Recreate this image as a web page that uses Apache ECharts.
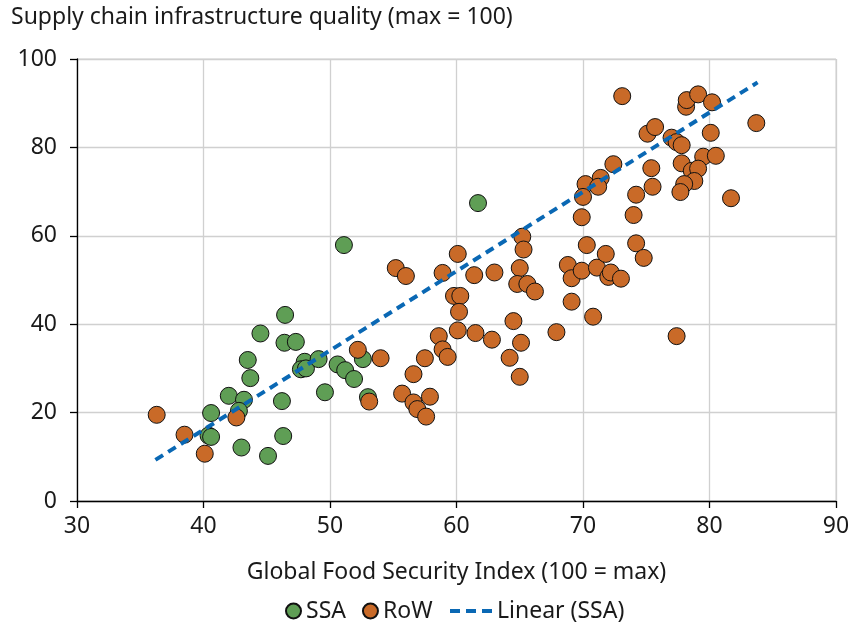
<!DOCTYPE html>
<html>
<head>
<meta charset="utf-8">
<script src="https://cdn.jsdelivr.net/npm/echarts@6/dist/echarts.min.js"></script>
<style>
  html, body { margin: 0; padding: 0; background: #fff; }
  #chart { width: 853px; height: 624px; }
</style>
</head>
<body>
<div id="chart"></div>
<script>
// Sub-Saharan Africa: [GFSI score, supply chain infrastructure quality]
const ssaPoints = [
  [51.1, 57.9], [61.7, 67.4], [46.45, 42.1], [44.5, 37.9], [46.4, 35.8],
  [47.3, 36.0], [43.5, 31.9], [48.0, 31.5], [47.7, 29.8], [48.1, 30.0],
  [49.1, 32.1], [43.7, 27.8], [50.6, 30.9], [51.2, 29.6], [51.9, 27.6],
  [52.6, 32.1], [49.6, 24.6], [53.0, 23.5], [42.0, 23.8], [43.2, 22.9],
  [42.8, 20.4], [40.6, 19.9], [46.2, 22.6], [40.4, 14.8], [40.6, 14.5],
  [46.3, 14.7], [43.0, 12.1], [45.1, 10.2]
];

// Rest of the world
const rowPoints = [
  [36.3, 19.5], [38.5, 15.0], [40.1, 10.7], [42.6, 18.9], [52.2, 34.2],
  [54.0, 32.3], [53.1, 22.5], [55.2, 52.7], [56.0, 50.9], [60.1, 55.9],
  [58.9, 51.6], [61.4, 51.1], [63.0, 51.7], [59.8, 46.4], [60.3, 46.4],
  [60.2, 42.8], [60.1, 38.6], [61.5, 38.0], [62.8, 36.5], [58.6, 37.3],
  [58.9, 34.3], [59.3, 32.6], [57.5, 32.3], [56.6, 28.7], [55.7, 24.3],
  [56.6, 22.3], [57.9, 23.6], [56.9, 20.8], [57.6, 19.1], [65.2, 59.8],
  [65.3, 56.9], [65.0, 52.7], [64.8, 49.1], [65.6, 49.1], [66.2, 47.4],
  [64.5, 40.7], [65.1, 35.8], [64.2, 32.4], [65.0, 28.1], [67.9, 38.2],
  [68.8, 53.4], [69.1, 50.4], [69.9, 52.1], [71.1, 52.8], [71.8, 55.9],
  [72.0, 50.7], [72.2, 51.7], [73.0, 50.3], [70.3, 57.9], [74.2, 58.3],
  [74.8, 55.0], [69.1, 45.1], [70.8, 41.7], [77.4, 37.3], [73.1, 91.6],
  [78.15, 89.2], [78.2, 90.7], [79.1, 92.0], [80.2, 90.2], [83.7, 85.5],
  [75.1, 83.1], [75.7, 84.6], [77.0, 82.2], [77.4, 81.2], [77.8, 80.5],
  [80.1, 83.3], [72.4, 76.2], [75.4, 75.3], [77.8, 76.4], [79.5, 77.9],
  [80.5, 78.1], [78.6, 74.7], [79.1, 75.2], [78.8, 72.4], [78.0, 71.7],
  [77.7, 69.9], [71.4, 73.1], [70.2, 71.7], [71.2, 71.1], [70.0, 68.8],
  [75.5, 71.1], [74.2, 69.3], [74.0, 64.7], [69.9, 64.2], [81.7, 68.5]
];

// Linear trend fitted to the SSA group, extended across the range
const trendSSA = [[36.2, 9.3], [83.8, 94.7]];

const xTicks = [30, 40, 50, 60, 70, 80, 90];
const yTicks = [0, 20, 40, 60, 80, 100];

const FONT = '"Noto Sans", "Open Sans", sans-serif';
const TEXT = '#1a1a1a';
const FS = 23;

const legendText = { fontFamily: FONT, fontSize: FS, color: TEXT, lineHeight: 24 };

const chart = echarts.init(document.getElementById('chart'), null, { renderer: 'canvas' });

chart.setOption({
  animation: false,
  backgroundColor: '#ffffff',
  textStyle: { fontFamily: FONT, color: TEXT },
  title: {
    text: 'Supply chain infrastructure quality (max = 100)',
    left: 6,
    top: 1,
    textStyle: { fontFamily: FONT, fontSize: FS, fontWeight: 'normal', color: TEXT }
  },
  grid: { left: 77, right: 17, top: 59, bottom: 123, containLabel: false,
          show: true, borderColor: '#d0d0d0', borderWidth: 1 },
  legend: [
    {
      left: 285,
      top: 599,
      padding: 0,
      itemGap: 16,
      itemWidth: 15,
      itemHeight: 15,
      textStyle: legendText,
      data: [
        { name: 'SSA', icon: 'circle' },
        { name: 'RoW', icon: 'circle' }
      ]
    },
    {
      left: 450,
      top: 599,
      padding: 0,
      itemWidth: 42,
      itemHeight: 4,
      textStyle: legendText,
      data: [
        { name: 'Linear (SSA)', icon: 'path://M0,0h10v4h-10z M16,0h10v4h-10z M32,0h10v4h-10z' }
      ]
    }
  ],
  xAxis: {
    type: 'value',
    min: xTicks[0],
    max: xTicks[xTicks.length - 1],
    interval: 10,
    name: 'Global Food Security Index (100 = max)',
    nameLocation: 'middle',
    nameGap: 60,
    nameTextStyle: { fontFamily: FONT, fontSize: FS, color: TEXT },
    axisLine: { show: true, onZero: false, lineStyle: { color: '#000', width: 1.3 } },
    axisTick: { show: true, length: 7, lineStyle: { color: '#000', width: 1.3 } },
    axisLabel: { fontFamily: FONT, fontSize: FS, color: TEXT, margin: 14 },
    splitLine: { show: true, lineStyle: { color: '#d0d0d0', width: 1.3 } }
  },
  yAxis: {
    type: 'value',
    min: yTicks[0],
    max: yTicks[yTicks.length - 1],
    interval: 20,
    axisLine: { show: true, onZero: false, lineStyle: { color: '#000', width: 1.3 } },
    axisTick: { show: true, length: 7, lineStyle: { color: '#000', width: 1.3 } },
    axisLabel: { fontFamily: FONT, fontSize: FS, color: TEXT, margin: 20 },
    splitLine: { show: true, lineStyle: { color: '#d0d0d0', width: 1.3 } }
  },
  series: [
    {
      name: 'SSA',
      type: 'scatter',
      data: ssaPoints,
      symbolSize: 17,
      z: 3,
      itemStyle: { color: '#5f9e55', borderColor: '#111', borderWidth: 1, opacity: 1 }
    },
    {
      name: 'RoW',
      type: 'scatter',
      data: rowPoints,
      symbolSize: 17,
      z: 4,
      itemStyle: { color: '#c96a28', borderColor: '#111', borderWidth: 1, opacity: 1 }
    },
    {
      name: 'Linear (SSA)',
      type: 'line',
      data: trendSSA,
      symbol: 'none',
      z: 5,
      itemStyle: { color: '#0a68b4' },
      lineStyle: { color: '#0a68b4', width: 4, type: [9, 6] }
    }
  ]
});
</script>
</body>
</html>
